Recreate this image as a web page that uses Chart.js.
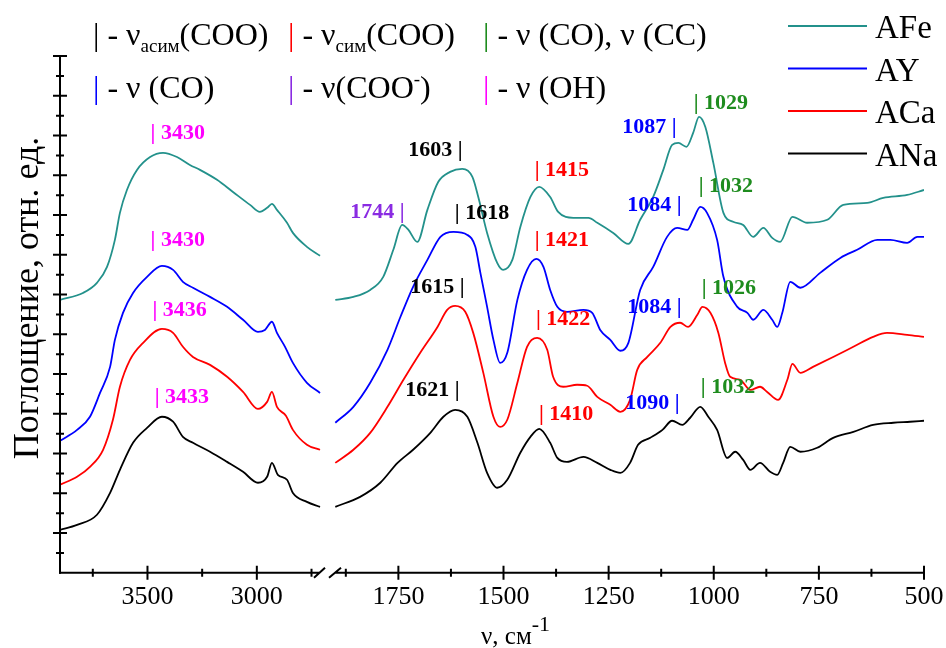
<!DOCTYPE html>
<html>
<head>
<meta charset="utf-8">
<script src="https://cdn.jsdelivr.net/npm/chart.js@4.4.0/dist/chart.umd.min.js"></script>
<style>
  html, body { margin: 0; padding: 0; background: #fff; }
</style>
</head>
<body>
<canvas id="ir" width="946" height="648"></canvas>
<script>
// --- axis pieces (cm-1), the x axis is broken between them
const leftRange = [2670, 3900];
const rightRange = [500, 1915];
const leftMajor = [3500, 3000];
const leftMinor = [3750, 3250, 2750];
const rightMajor = [1750, 1500, 1250, 1000, 750, 500];
const rightMinor = [1875, 1625, 1375, 1125, 875, 625];
const yMax = 26; // relative units, one tick per unit

// --- spectra, high wavenumber part
const afeLW = [3900,3795,3731,3685,3649,3626,3594,3548,3488,3429,3365,3306,3260,3182,3109,3031,2986,2953,2931,2908,2862,2835,2771,2711];
const afeLA = [13.73,14.08,14.59,15.39,16.75,18.11,19.26,20.27,20.92,21.13,20.92,20.52,20.27,19.77,19.16,18.51,18.16,18.36,18.56,18.26,17.61,17.10,16.40,15.95];
const ayLW = [3900,3822,3763,3717,3671,3649,3612,3566,3502,3434,3383,3338,3292,3214,3136,3063,2995,2963,2931,2908,2871,2835,2771,2711];
const ayLA = [6.64,7.19,7.85,9.05,10.36,11.72,13.08,14.08,14.89,15.44,15.24,14.64,14.34,13.88,13.38,12.73,12.12,12.22,12.63,12.07,11.37,10.56,9.56,9.05];
const acaLW = [3900,3822,3763,3703,3658,3626,3580,3520,3434,3383,3338,3292,3214,3136,3063,2995,2953,2931,2908,2867,2835,2771,2711];
const acaLA = [4.43,4.83,5.33,6.19,7.70,9.36,10.71,11.57,12.27,12.07,11.37,10.86,10.46,9.86,9.10,8.25,8.60,9.10,8.35,7.90,7.19,6.44,6.19];
const anaLW = [3900,3822,3731,3671,3626,3566,3502,3434,3383,3338,3292,3214,3136,3063,2995,2953,2931,2904,2862,2835,2771,2711];
const anaLA = [2.16,2.41,2.92,4.02,5.18,6.54,7.29,7.85,7.60,6.84,6.54,6.09,5.58,5.08,4.53,4.83,5.53,4.93,4.68,4.02,3.57,3.32];

// --- spectra, fingerprint part
const afeRW = [1900,1857,1817,1786,1762,1741,1726,1705,1681,1655,1627,1598,1574,1560,1539,1515,1501,1479,1460,1436,1415,1389,1370,1334,1298,1277,1239,1203,1175,1144,1120,1099,1084,1065,1049,1035,1020,1001,977,954,930,906,882,861,842,813,778,730,692,635,597,540,500];
const afeRA = [13.73,13.88,14.23,14.89,16.25,17.50,17.25,16.65,18.26,19.67,20.17,20.32,19.92,18.91,17.10,15.59,15.24,15.74,17.40,18.91,19.42,18.91,18.16,17.86,17.86,17.61,17.10,16.55,17.76,18.91,20.27,21.53,21.63,21.43,22.13,22.94,22.43,20.62,18.11,17.66,17.50,16.90,17.35,16.85,16.65,17.91,17.61,17.76,18.51,18.61,18.86,19.01,19.26];
const ayRW = [1900,1857,1817,1776,1745,1715,1681,1650,1619,1586,1567,1555,1539,1524,1508,1491,1467,1444,1422,1405,1389,1372,1349,1310,1289,1270,1246,1222,1203,1175,1144,1111,1087,1063,1049,1032,1016,992,977,944,920,906,882,861,849,837,818,794,747,699,659,611,580,540,516,500];
const ayRA = [7.55,8.35,9.56,11.22,12.88,14.39,15.74,16.90,17.15,17.00,16.40,15.09,13.38,11.72,10.56,11.07,13.73,15.24,15.79,15.39,14.23,13.38,13.13,13.23,13.08,12.22,11.72,11.17,11.57,14.23,15.39,16.90,17.35,17.25,17.76,18.41,18.11,16.75,14.89,13.38,13.08,12.73,13.23,12.73,12.37,13.08,14.64,14.34,15.09,15.84,16.25,16.75,16.75,16.60,16.90,16.90];
const acaRW = [1900,1857,1817,1776,1738,1698,1657,1634,1615,1591,1572,1548,1524,1508,1491,1467,1444,1420,1396,1382,1358,1325,1301,1277,1246,1222,1199,1182,1158,1127,1103,1080,1061,1039,1027,1008,989,973,961,937,913,890,873,847,825,813,794,764,716,668,621,588,540,500];
const acaRA = [5.53,6.19,7.04,8.35,9.71,11.07,12.37,13.23,13.43,13.13,12.07,10.06,7.85,7.34,7.70,9.56,11.37,11.82,11.22,9.86,9.36,9.46,9.41,8.85,8.45,8.10,8.70,10.21,10.86,11.57,12.37,12.58,12.37,12.98,13.38,13.08,12.07,10.56,9.86,9.71,9.20,9.36,9.10,8.70,9.71,10.51,10.06,10.36,10.86,11.37,11.87,12.07,11.97,11.87];
const anaRW = [1900,1841,1793,1752,1715,1674,1643,1615,1586,1562,1539,1515,1491,1460,1436,1415,1389,1372,1349,1310,1277,1246,1222,1199,1180,1151,1122,1099,1075,1056,1032,1013,992,968,949,930,913,890,866,849,835,818,794,754,716,668,621,573,533,500];
const anaRA = [3.32,3.82,4.53,5.53,6.19,7.04,7.85,8.20,7.85,6.54,5.03,4.28,4.68,6.04,6.84,7.24,6.54,5.78,5.58,5.83,5.53,5.18,5.03,5.53,6.44,6.79,7.19,7.65,7.44,7.80,8.35,7.85,7.19,5.78,6.09,5.68,5.18,5.53,5.08,4.93,5.53,6.34,6.09,6.29,6.79,7.09,7.44,7.55,7.60,7.65];

const seriesNames = ['AFe', 'AY', 'ACa', 'ANa'];
const seriesColors = ['#23918b', '#0000ff', '#ff0000', '#000000'];
const seriesLeft = [[afeLW, afeLA], [ayLW, ayLA], [acaLW, acaLA], [anaLW, anaLA]];
const seriesRight = [[afeRW, afeRA], [ayRW, ayRA], [acaRW, acaRA], [anaRW, anaRA]];

// --- peak marks: bar position (cm-1), height, colour key, text
const peakText = ['| 3430','| 3430','| 3436','| 3433','1603 |','1744 |','| 1618','| 1415','| 1421','1615 |','| 1422','1621 |','| 1410','1087 |','| 1029','1084 |','| 1032','1084 |','| 1026','1090 |','| 1032'];
const peakW = [3475,3475,3466,3456,1603,1741,1610,1420,1420,1598,1417,1610,1410,1094,1042,1082,1030,1082,1023,1087,1025];
const peakY = [22.13,16.75,13.23,8.85,21.28,18.16,18.11,20.27,16.75,14.34,12.73,9.20,7.95,22.43,23.64,18.51,19.42,13.38,14.29,8.55,9.31];
const peakKey = ['oh','oh','oh','oh','as','coo','as','s','s','as','s','as','s','co','cc','co','cc','co','cc','co','cc'];

const keyColors = { as: '#000000', s: '#ff0000', cc: '#1e8c1e', co: '#0000ff', coo: '#8a2be2', oh: '#ff00ff' };

const SERIF = "'Liberation Serif', 'Times New Roman', serif";
Chart.defaults.font.family = SERIF;

function toPoints(w, a) {
    return w.map((v, i) => ({ x: v, y: a[i] }));
}

const datasets = [];
seriesNames.forEach(function (name, i) {
    datasets.push({
        label: name, xAxisID: 'xL', yAxisID: 'y',
        data: toPoints(seriesLeft[i][0], seriesLeft[i][1]),
        borderColor: seriesColors[i], borderWidth: 1.8, pointRadius: 0,
        cubicInterpolationMode: 'monotone', fill: false
    });
    datasets.push({
        label: name, xAxisID: 'xR', yAxisID: 'y',
        data: toPoints(seriesRight[i][0], seriesRight[i][1]),
        borderColor: seriesColors[i], borderWidth: 1.8, pointRadius: 0,
        cubicInterpolationMode: 'monotone', fill: false
    });
});

function drawRich(ctx, x, y, parts) {
    for (const p of parts) {
        ctx.font = p.font;
        ctx.fillStyle = p.color || '#000';
        ctx.fillText(p.t, x, y + (p.dy || 0));
        x += ctx.measureText(p.t).width;
    }
}

const irExtras = {
    id: 'irExtras',
    afterDraw(chart) {
        const ctx = chart.ctx;
        const ys = chart.scales.y, xL = chart.scales.xL, xR = chart.scales.xR;
        const x0 = xL.getPixelForValue(leftRange[1]);
        const yb = ys.getPixelForValue(0);
        const b = xL.right; // break position
        ctx.save();
        ctx.strokeStyle = '#000';
        ctx.lineCap = 'butt';

        // y axis with ticks (major every 2 units)
        ctx.lineWidth = 2;
        ctx.beginPath();
        ctx.moveTo(x0, ys.getPixelForValue(yMax) - 1);
        ctx.lineTo(x0, yb + 1);
        for (let v = 1; v <= yMax; v++) {
            const py = ys.getPixelForValue(v);
            const len = v % 2 === 0 ? 7 : 4;
            ctx.moveTo(x0 - len, py);
            ctx.lineTo(x0 + len, py);
        }
        ctx.stroke();

        // x axis with break
        ctx.beginPath();
        ctx.moveTo(x0 - 1, yb);
        ctx.lineTo(b - 9, yb);
        ctx.moveTo(b + 6, yb);
        ctx.lineTo(xR.right, yb);
        ctx.moveTo(b - 15, yb + 5);
        ctx.lineTo(b - 4, yb - 5);
        ctx.moveTo(b, yb + 5);
        ctx.lineTo(b + 12, yb - 5);
        const tick = (sc, v, len) => {
            const px = sc.getPixelForValue(v);
            ctx.moveTo(px, yb - len);
            ctx.lineTo(px, yb + len);
        };
        leftMajor.forEach(v => tick(xL, v, 7));
        leftMinor.forEach(v => tick(xL, v, 4));
        rightMajor.forEach(v => tick(xR, v, 7));
        rightMinor.forEach(v => tick(xR, v, 4));
        ctx.stroke();

        // axis titles
        ctx.fillStyle = '#000';
        ctx.textBaseline = 'alphabetic';
        ctx.textAlign = 'left';
        drawRich(ctx, 481, 644, [
            { t: 'ν, см', font: '25px ' + SERIF },
            { t: '-1', font: '22px ' + SERIF, dy: -13 }
        ]);
        ctx.save();
        ctx.translate(38, 298);
        ctx.rotate(-Math.PI / 2);
        ctx.textAlign = 'center';
        ctx.font = '36px ' + SERIF;
        ctx.fillText('Поглощение, отн. ед.', 0, 0);
        ctx.restore();

        // band key at the top
        const F = '32px ' + SERIF, FS = '19px ' + SERIF;
        drawRich(ctx, 93, 45, [{ t: '|', font: F, color: keyColors.as }, { t: ' - ν', font: F }, { t: 'асим', font: FS, dy: 7 }, { t: '(COO)', font: F }]);
        drawRich(ctx, 288, 45, [{ t: '|', font: F, color: keyColors.s }, { t: ' - ν', font: F }, { t: 'сим', font: FS, dy: 7 }, { t: '(COO)', font: F }]);
        drawRich(ctx, 483, 45, [{ t: '|', font: F, color: keyColors.cc }, { t: ' - ν (CO), ν (CC)', font: F }]);
        drawRich(ctx, 93, 98, [{ t: '|', font: F, color: keyColors.co }, { t: ' - ν (CO)', font: F }]);
        drawRich(ctx, 288, 98, [{ t: '|', font: F, color: keyColors.coo }, { t: ' - ν(COO', font: F }, { t: '-', font: FS, dy: -13 }, { t: ')', font: F }]);
        drawRich(ctx, 483, 98, [{ t: '|', font: F, color: keyColors.oh }, { t: ' - ν (OH)', font: F }]);

        // series legend
        seriesNames.forEach(function (name, i) {
            const ly = 26 + i * 42.5;
            ctx.strokeStyle = seriesColors[i];
            ctx.lineWidth = 2;
            ctx.beginPath();
            ctx.moveTo(788, ly);
            ctx.lineTo(867, ly);
            ctx.stroke();
            ctx.fillStyle = '#000';
            ctx.font = '33px ' + SERIF;
            ctx.textAlign = 'left';
            ctx.fillText(name, 875, ly + 12);
        });

        // peak marks
        ctx.font = 'bold 22px ' + SERIF;
        ctx.textBaseline = 'middle';
        peakText.forEach(function (txt, i) {
            const sc = peakW[i] > 2000 ? xL : xR;
            const px = sc.getPixelForValue(peakW[i]);
            const py = ys.getPixelForValue(peakY[i]);
            ctx.fillStyle = keyColors[peakKey[i]];
            if (txt.charAt(0) === '|') {
                ctx.textAlign = 'left';
                ctx.fillText(txt, px - 2.4, py);
            } else {
                ctx.textAlign = 'right';
                ctx.fillText(txt, px + 2.4, py);
            }
        });
        ctx.restore();
    }
};

// the last label may hang over the right edge, the layout padding covers it
const noSidePad = s => { s.paddingLeft = 0; s.paddingRight = 0; };
const xTickFont = { family: SERIF, size: 26 };
new Chart(document.getElementById('ir').getContext('2d'), {
    type: 'line',
    data: { datasets: datasets },
    options: {
        responsive: false,
        animation: false,
        devicePixelRatio: 1,
        layout: { padding: { left: 60, top: 56, right: 22, bottom: 26 } },
        plugins: { legend: { display: false }, tooltip: { enabled: false } },
        scales: {
            xL: {
                type: 'linear', position: 'bottom', stack: 'wn', stackWeight: 269,
                reverse: true, min: leftRange[0], max: leftRange[1],
                grid: { display: false, drawTicks: false }, border: { display: false },
                afterBuildTicks: s => { s.ticks = leftMajor.map(v => ({ value: v })); },
                afterFit: noSidePad,
                ticks: { padding: 9, font: xTickFont, color: '#000', autoSkip: false, maxRotation: 0, callback: v => String(v) }
            },
            xR: {
                type: 'linear', position: 'bottom', stack: 'wn', stackWeight: 595,
                reverse: true, min: rightRange[0], max: rightRange[1],
                grid: { display: false, drawTicks: false }, border: { display: false },
                afterBuildTicks: s => { s.ticks = rightMajor.map(v => ({ value: v })); },
                afterFit: noSidePad,
                ticks: { padding: 9, font: xTickFont, color: '#000', autoSkip: false, maxRotation: 0, callback: v => String(v) }
            },
            y: { display: false, min: 0, max: yMax }
        }
    },
    plugins: [irExtras]
});
</script>
</body>
</html>
